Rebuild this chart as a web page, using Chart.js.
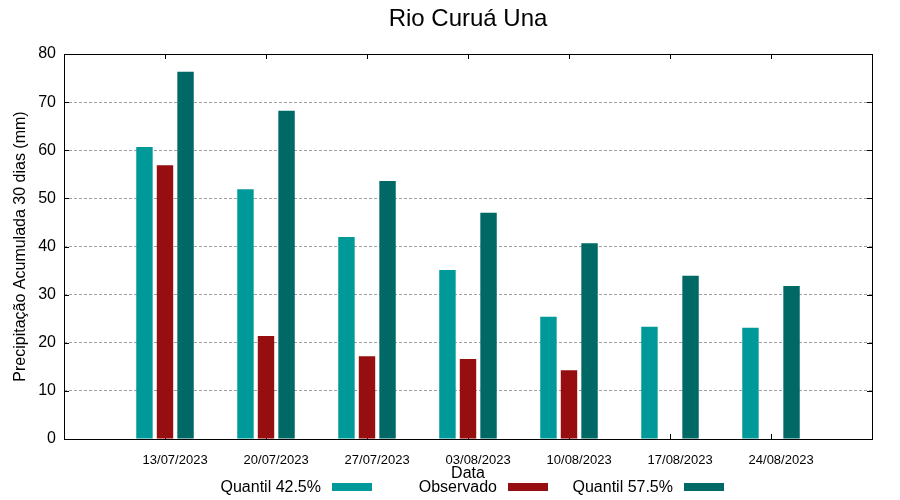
<!DOCTYPE html>
<html>
<head>
<meta charset="utf-8">
<title>Rio Curuá Una</title>
<script src="https://cdn.jsdelivr.net/npm/chart.js@4.4.0/dist/chart.umd.min.js"></script>
<style>
  body { margin: 0; background: #fff; }
  #wrap { position: relative; width: 900px; height: 500px; }
  #legenda { position: absolute; left: 0; top: 478px; height: 18px; width: 900px;
             font: 16px "Liberation Sans", Arial, sans-serif; color: #000; }
  .item { position: absolute; top: 0; width: 176px; height: 18px; line-height: 18px;
          display: flex; justify-content: flex-end; align-items: center; }
  .item .caixa { display: inline-block; width: 40px; height: 8px; margin-left: 11px; }
</style>
</head>
<body>
<div id="wrap">
  <canvas id="grafico" width="900" height="500"></canvas>
  <div id="legenda"></div>
</div>
<script>
// dados
const datas = ["13/07/2023", "20/07/2023", "27/07/2023", "03/08/2023", "10/08/2023", "17/08/2023", "24/08/2023"];
const quantil425 = [60.7, 51.9, 42.0, 35.1, 25.4, 23.3, 23.1];
const observado = [56.9, 21.4, 17.2, 16.6, 14.3, null, null];
const quantil575 = [76.3, 68.2, 53.6, 47.0, 40.7, 33.9, 31.8];
const yTicks = [0, 10, 20, 30, 40, 50, 60, 70, 80];

const fonte = "'Liberation Sans', Arial, sans-serif";
Chart.defaults.font.family = fonte;
Chart.defaults.color = "#000";

const pontos = (serie) => serie.map((v, i) => ({ x: i, y: v }));

// moldura + marcas internas estilo gnuplot
const moldura = {
  id: "moldura",
  beforeDatasetsDraw(chart) {
    const { ctx, chartArea: a, scales: { x, y } } = chart;
    ctx.save();
    ctx.strokeStyle = "#000";
    ctx.lineWidth = 1;
    ctx.beginPath();
    datas.forEach((d, i) => {
      const px = Math.round(x.getPixelForValue(i)) + 0.5;
      ctx.moveTo(px, a.bottom); ctx.lineTo(px, a.bottom - 5);
      ctx.moveTo(px, a.top); ctx.lineTo(px, a.top + 5);
    });
    yTicks.forEach(v => {
      const py = Math.round(y.getPixelForValue(v)) + 0.5;
      ctx.moveTo(a.left, py); ctx.lineTo(a.left + 5, py);
      ctx.moveTo(a.right, py); ctx.lineTo(a.right - 5, py);
    });
    ctx.stroke();
    ctx.restore();
  },
  afterDatasetsDraw(chart) {
    const { ctx, chartArea: a } = chart;
    ctx.save();
    ctx.strokeStyle = "#000";
    ctx.lineWidth = 1;
    ctx.strokeRect(Math.round(a.left) + 0.5, Math.round(a.top) + 0.5,
                   Math.round(a.right - a.left), Math.round(a.bottom - a.top));
    ctx.restore();
  }
};

// legenda em html, texto à esquerda da amostra (como no gnuplot)
const legendaHtml = {
  id: "legendaHtml",
  afterUpdate(chart) {
    const box = document.getElementById("legenda");
    box.innerHTML = "";
    chart.data.datasets.forEach((ds, i) => {
      const item = document.createElement("div");
      item.className = "item";
      item.style.left = (196 + i * 176) + "px";
      const txt = document.createElement("span");
      txt.textContent = ds.label;
      const cx = document.createElement("span");
      cx.className = "caixa";
      cx.style.background = ds.backgroundColor;
      item.appendChild(txt);
      item.appendChild(cx);
      box.appendChild(item);
    });
  }
};

const config = {
  type: "bar",
  data: {
    datasets: [
      { label: "Quantil 42.5%", data: pontos(quantil425), backgroundColor: "#009999" },
      { label: "Observado", data: pontos(observado), backgroundColor: "#960e10" },
      { label: "Quantil 57.5%", data: pontos(quantil575), backgroundColor: "#006966" }
    ]
  },
  options: {
    responsive: false,
    animation: false,
    categoryPercentage: 0.61,
    barPercentage: 0.8,
    layout: { padding: { left: 0, right: 28, top: 0, bottom: 22 } },
    plugins: {
      legend: { display: false },
      tooltip: { enabled: false },
      title: {
        display: true,
        text: "Rio Curuá Una",
        fullSize: false,
        color: "#000",
        font: { size: 24, weight: "normal" },
        padding: { top: 4.6, bottom: 20.6 }
      }
    },
    scales: {
      x: { type: "linear", min: -1, max: 7, display: false, offset: false, grid: { offset: false } },
      xl: {
        type: "linear",
        position: "bottom",
        min: -1.1,
        max: 6.9,
        offset: false,
        afterBuildTicks: (s) => { s.ticks = datas.map((d, i) => ({ value: i })); },
        afterFit: (s) => { s.height = 39; },
        ticks: { callback: (v) => datas[v], font: { size: 13 }, padding: 14, maxRotation: 0, autoSkip: false },
        grid: { display: false, drawTicks: false, offset: false },
        border: { display: false },
        title: { display: true, text: "Data", font: { size: 16 }, padding: { top: 0, bottom: -5.6 } }
      },
      y: {
        min: 0,
        max: 80,
        afterFit: (s) => { s.width = 64; },
        afterBuildTicks: (s) => { s.ticks = yTicks.map(v => ({ value: v })); },
        ticks: { font: { size: 16 }, padding: 8 },
        grid: { color: "#a0a0a0", drawTicks: false },
        border: { display: false, dash: [3, 2] },
        title: {
          display: true,
          text: "Precipitação Acumulada 30 dias (mm)",
          font: { size: 16 },
          padding: { top: 11.4, bottom: 0 }
        }
      }
    }
  },
  plugins: [moldura, legendaHtml]
};

const grafico = new Chart(document.getElementById("grafico"), config);
</script>
</body>
</html>
